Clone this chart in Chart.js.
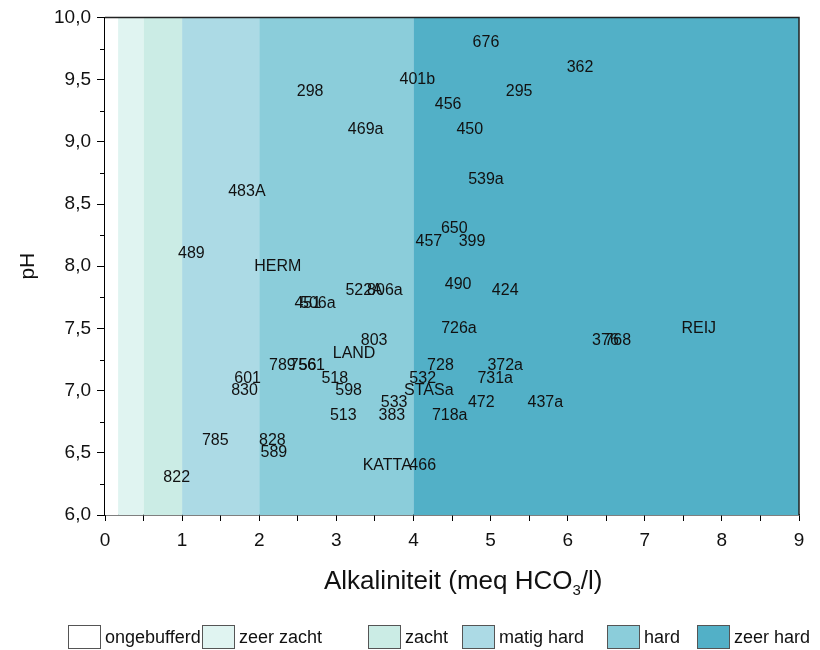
<!DOCTYPE html>
<html>
<head>
<meta charset="utf-8">
<script src="https://cdn.jsdelivr.net/npm/chart.js@4/dist/chart.umd.min.js"></script>
<style>
    body { margin: 0; background: #fff; font-family: "Liberation Sans", Arial, sans-serif; }
    #wrap { position: relative; width: 820px; height: 650px; }
    #xTitle { position: absolute; left: 324px; top: 565px; font-size: 26px; color: #111; white-space: nowrap; }
    #xTitle sub { font-size: 15px; vertical-align: -6px; line-height: 0; }
    .legendBox { position: absolute; top: 625px; width: 33px; height: 24px; box-sizing: border-box; border: 1px solid #555; }
    .legendText { position: absolute; top: 626px; font-size: 18px; line-height: 22px; color: #111; white-space: nowrap; }
</style>
</head>
<body>
<div id="wrap">
    <canvas id="phChart" width="820" height="650"></canvas>
    <div id="xTitle">Alkaliniteit (meq HCO<sub>3</sub>/l)</div>
</div>
<script>
// Buffer classes along the alkalinity axis
const bandNames = ['ongebufferd', 'zeer zacht', 'zacht', 'matig hard', 'hard', 'zeer hard'];
const bandEdges = [0, 0.17, 0.5, 1, 2, 4, 9];
const bandColors = ['#ffffff', '#e0f4f1', '#cbece5', '#acdae5', '#8bcdda', '#52b0c7'];

// Sampling stations: name, alkalinity (meq HCO3/l), pH
const stations = ['676', '362', '401b', '295', '298', '456', '469a', '450', '539a', '483A',
    '650', '457', '399', '489', 'HERM', '490', '522A', '806a', '424', '451',
    '506a', '726a', 'REIJ', '376', '768', '803', 'LAND', '728', '372a', '789',
    '756', '561', '601', '518', '532', '731a', '830', '598', 'STASa', '533',
    '472', '437a', '513', '383', '718a', '785', '828', '589', 'KATTA', '466', '822'];
const alkalinity = [4.94, 6.16, 4.05, 5.37, 2.66, 4.45, 3.38, 4.73, 4.94, 1.84,
    4.53, 4.20, 4.76, 1.12, 2.24, 4.58, 3.36, 3.63, 5.19, 2.63,
    2.76, 4.59, 7.70, 6.49, 6.65, 3.49, 3.23, 4.35, 5.19, 2.30,
    2.57, 2.68, 1.85, 2.98, 4.12, 5.06, 1.81, 3.16, 4.20, 3.75,
    4.88, 5.71, 3.09, 3.72, 4.47, 1.43, 2.17, 2.19, 3.66, 4.12, 0.93];
const ph = [9.8, 9.6, 9.5, 9.4, 9.4, 9.3, 9.1, 9.1, 8.7, 8.6,
    8.3, 8.2, 8.2, 8.1, 8.0, 7.85, 7.8, 7.8, 7.8, 7.7,
    7.7, 7.5, 7.5, 7.4, 7.4, 7.4, 7.3, 7.2, 7.2, 7.2,
    7.2, 7.2, 7.1, 7.1, 7.1, 7.1, 7.0, 7.0, 7.0, 6.9,
    6.9, 6.9, 6.8, 6.8, 6.8, 6.6, 6.6, 6.5, 6.4, 6.4, 6.3];

const points = stations.map((name, i) => ({ x: alkalinity[i], y: ph[i] }));

function isHalf(v) {
    return Math.abs(v * 2 - Math.round(v * 2)) < 1e-6;
}

// Coloured bands behind the data, frame on top/right, short minor ticks on y
const bandsPlugin = {
    id: 'bands',
    beforeDatasetsDraw(chart) {
        const { ctx, chartArea, scales } = chart;
        ctx.save();
        for (let i = 0; i < bandColors.length; i++) {
            const x0 = scales.x.getPixelForValue(bandEdges[i]);
            const x1 = scales.x.getPixelForValue(bandEdges[i + 1]);
            ctx.fillStyle = bandColors[i];
            ctx.fillRect(x0, chartArea.top, x1 - x0, chartArea.bottom - chartArea.top);
        }
        ctx.restore();
    },
    afterDraw(chart) {
        const { ctx, chartArea, scales } = chart;
        ctx.save();
        ctx.strokeStyle = '#222';
        ctx.lineWidth = 1.5;
        ctx.beginPath();
        ctx.moveTo(chartArea.left, chartArea.top);
        ctx.lineTo(chartArea.right, chartArea.top);
        ctx.lineTo(chartArea.right, chartArea.bottom);
        ctx.stroke();

        ctx.strokeStyle = '#000';
        ctx.lineWidth = 1;
        ctx.beginPath();
        scales.y.ticks.forEach(t => {
            if (isHalf(t.value)) return;
            const y = Math.round(scales.y.getPixelForValue(t.value)) + 0.5;
            ctx.moveTo(chartArea.left - 5, y);
            ctx.lineTo(chartArea.left, y);
        });
        ctx.stroke();
        ctx.restore();
    }
};

// Station names written at their points
const labelPlugin = {
    id: 'stationLabels',
    afterDatasetsDraw(chart) {
        const { ctx } = chart;
        const meta = chart.getDatasetMeta(0);
        ctx.save();
        ctx.font = '16px "Liberation Sans", Arial, sans-serif';
        ctx.fillStyle = '#111';
        ctx.textAlign = 'center';
        ctx.textBaseline = 'middle';
        meta.data.forEach((pt, i) => {
            ctx.fillText(stations[i], pt.x, pt.y);
        });
        ctx.restore();
    }
};

const tickFont = { family: '"Liberation Sans", Arial, sans-serif', size: 19 };

new Chart(document.getElementById('phChart'), {
    type: 'scatter',
    data: {
        datasets: [{
            data: points,
            pointRadius: 0,
            pointHoverRadius: 0
        }]
    },
    options: {
        responsive: false,
        animation: false,
        events: [],
        layout: { padding: { top: 17, right: 21, left: 0, bottom: 0 } },
        plugins: {
            legend: { display: false },
            tooltip: { enabled: false }
        },
        scales: {
            x: {
                type: 'linear',
                min: 0,
                max: 9,
                afterFit: scale => { scale.height = 135; },
                border: { display: true, color: '#000', width: 1.5 },
                grid: {
                    drawOnChartArea: false,
                    tickLength: 6,
                    tickColor: '#000'
                },
                ticks: {
                    stepSize: 0.5,
                    autoSkip: false,
                    maxRotation: 0,
                    padding: 8,
                    color: '#111',
                    font: tickFont,
                    callback: v => Number.isInteger(v) ? String(v) : ''
                }
            },
            y: {
                type: 'linear',
                min: 6,
                max: 10,
                afterFit: scale => { scale.width = 105; },
                border: { display: true, color: '#000', width: 1.5 },
                grid: {
                    drawOnChartArea: false,
                    tickLength: 8,
                    tickColor: ctx => isHalf(ctx.tick.value) ? '#000' : 'rgba(0,0,0,0)'
                },
                ticks: {
                    stepSize: 0.25,
                    autoSkip: false,
                    padding: 6,
                    color: '#111',
                    font: tickFont,
                    callback: v => isHalf(v) ? v.toFixed(1).replace('.', ',') : ''
                },
                title: {
                    display: true,
                    text: 'pH',
                    color: '#111',
                    padding: { top: 16, bottom: 0 },
                    font: { family: '"Liberation Sans", Arial, sans-serif', size: 21 }
                }
            }
        }
    },
    plugins: [bandsPlugin, labelPlugin]
});

// Legend for the buffer classes
const legendBoxX = [68, 202, 368, 462, 607, 697];
const wrap = document.getElementById('wrap');
bandNames.forEach((name, i) => {
    const box = document.createElement('div');
    box.className = 'legendBox';
    box.style.left = legendBoxX[i] + 'px';
    box.style.background = bandColors[i];
    wrap.appendChild(box);
    const txt = document.createElement('div');
    txt.className = 'legendText';
    txt.style.left = (legendBoxX[i] + 37) + 'px';
    txt.textContent = name;
    wrap.appendChild(txt);
});
</script>
</body>
</html>
